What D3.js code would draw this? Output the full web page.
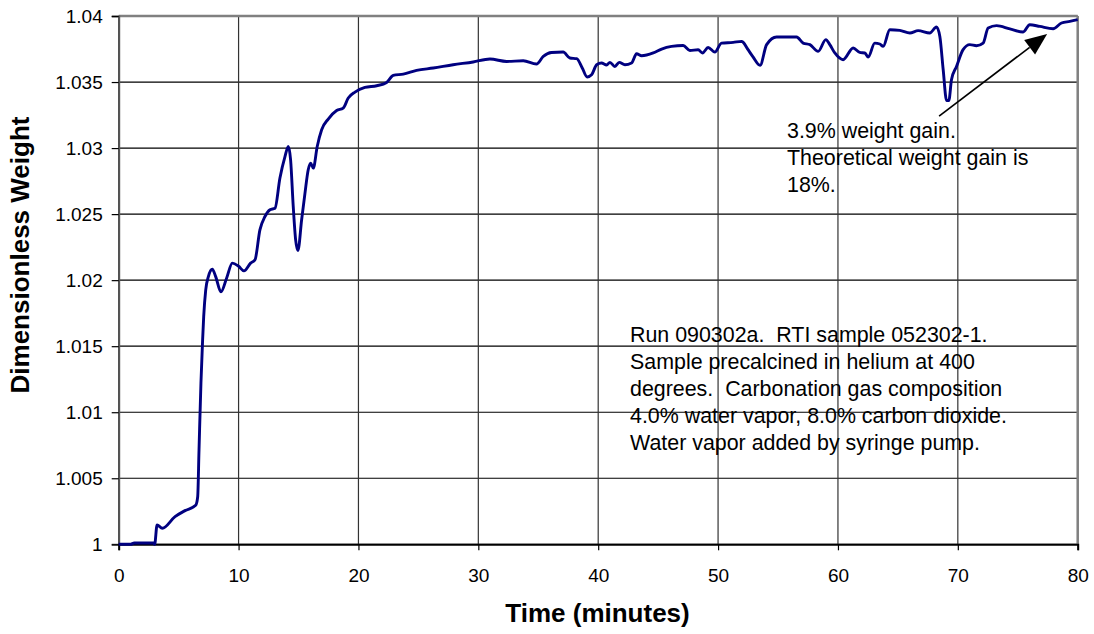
<!DOCTYPE html>
<html>
<head>
<meta charset="utf-8">
<script src="https://cdn.jsdelivr.net/npm/d3@7"></script>
<style>
  html, body { margin: 0; padding: 0; background: #fff; }
  svg { display: block; font-family: Arial, "Liberation Sans", sans-serif; }
  .note { white-space: pre; }
</style>
</head>
<body>
<svg id="chart" width="1094" height="634"></svg>
<script>
// Carbonation run 090302a: dimensionless sample weight vs time
const timeMin = [0, 1.0, 1.3, 2.9, 3.0, 3.2, 3.64, 4.7, 5.53, 6.42, 6.59, 6.7, 6.86, 7.0, 7.09, 7.26, 7.48, 7.81, 8.09, 8.53,
  9.0, 9.48, 10.0, 10.45, 11.0, 11.37, 11.78, 12.2, 12.62, 13.04, 13.45, 13.87, 14.15, 14.34, 14.56, 14.76, 14.95, 15.26, 15.54, 15.81,
  16.01, 16.23, 16.56, 16.93, 17.48, 18.18, 18.73, 19.15, 19.71, 20.54, 21.52, 22.35, 22.9, 23.74, 24.85, 26.24, 27.9, 29.57, 30.97, 32.36,
  33.75, 34.85, 35.42, 36.1, 37.08, 37.64, 38.2, 38.67, 39.08, 39.45, 39.87, 40.28, 40.7, 40.98, 41.39, 41.75, 42.23, 42.78, 43.2, 43.62,
  44.59, 45.29, 46.12, 47.09, 47.65, 48.34, 48.7, 49.17, 49.73, 50.29, 51.26, 51.96, 52.1, 52.5, 52.9, 53.5, 54.05, 54.88, 56.55, 57.1,
  57.66, 58.35, 58.99, 59.32, 59.74, 60.43, 61.27, 61.82, 62.24, 62.52, 63.07, 63.49, 63.77, 64.33, 65.16, 66.0, 66.69, 67.66, 68.22, 68.5,
  68.78, 69.06, 69.25, 69.47, 69.89, 70.44, 71.0, 71.56, 72.11, 72.53, 73.23, 74.34, 75.45, 76.0, 76.84, 77.95, 78.65, 79.34, 80.0];

const weight = [1.0000, 1.0000, 1.0001, 1.0001, 1.0000, 1.00146, 1.00121, 1.00209, 1.00255, 1.00295, 1.0036, 1.00714, 1.0122, 1.01548, 1.01724, 1.01927, 1.02027, 1.02083, 1.02027, 1.01911,
  1.02015, 1.02129, 1.02105, 1.0207, 1.02129, 1.02154, 1.02381, 1.02482, 1.02533, 1.02545, 1.02773, 1.02936, 1.03012, 1.02911, 1.02558, 1.02305, 1.02224, 1.02457, 1.02659, 1.02836,
  1.02886, 1.02848, 1.03012, 1.03139, 1.0322, 1.03285, 1.03303, 1.03379, 1.03424, 1.03459, 1.03472, 1.03497, 1.0355, 1.0356, 1.03588, 1.03606, 1.03631, 1.03652, 1.03674, 1.03656,
  1.03661, 1.03636, 1.03694, 1.03724, 1.03727, 1.03682, 1.03677, 1.03606, 1.03538, 1.03555, 1.03631, 1.03644, 1.03629, 1.03649, 1.03618, 1.03649, 1.03631, 1.03644, 1.03714, 1.03699,
  1.0372, 1.0375, 1.0377, 1.03777, 1.03739, 1.03745, 1.0372, 1.03762, 1.03727, 1.03795, 1.038, 1.03808, 1.038, 1.03745, 1.03692, 1.03626, 1.03783, 1.03841, 1.03841, 1.03795,
  1.03783, 1.03732, 1.03821, 1.03783, 1.0372, 1.03669, 1.03758, 1.03724, 1.0372, 1.03689, 1.03795, 1.03788, 1.0377, 1.03896, 1.03891, 1.03871, 1.03889, 1.03871, 1.03917, 1.03845,
  1.03593, 1.0336, 1.0336, 1.03517, 1.03618, 1.03745, 1.03783, 1.03775, 1.03795, 1.03909, 1.03927, 1.03902, 1.03879, 1.03934, 1.03921, 1.03904, 1.03947, 1.03959, 1.03972];

const xTicks = [0, 10, 20, 30, 40, 50, 60, 70, 80];
const yTicks = [1, 1.005, 1.01, 1.015, 1.02, 1.025, 1.03, 1.035, 1.04];

const xTitle = "Time (minutes)";
const yTitle = "Dimensionless Weight";

const gainNote = ["3.9% weight gain.", "Theoretical weight gain is", "18%."];
const runNote = [
  "Run 090302a.  RTI sample 052302-1.",
  "Sample precalcined in helium at 400",
  "degrees.  Carbonation gas composition",
  "4.0% water vapor, 8.0% carbon dioxide.",
  "Water vapor added by syringe pump."
];
// arrow from the gain note to the end of the curve: [time, weight]
const arrowFrom = [68.44, 1.03242];
const arrowTo = [77.45, 1.03864];

const svg = d3.select("#chart");
const plot = { left: 118.7, right: 1077.7, top: 16, bottom: 544.3 };

const x = d3.scaleLinear().domain([0, 80]).range([plot.left, plot.right]);
const y = d3.scaleLinear().domain([1, 1.04]).range([plot.bottom, plot.top]);

// grid
svg.append("g").selectAll("line").data(yTicks).join("line")
  .attr("x1", plot.left).attr("x2", plot.right)
  .attr("y1", d => y(d)).attr("y2", d => y(d))
  .attr("stroke", "#000").attr("stroke-width", 1.2);
svg.append("g").selectAll("line").data(xTicks).join("line")
  .attr("y1", plot.top).attr("y2", plot.bottom)
  .attr("x1", d => x(d)).attr("x2", d => x(d))
  .attr("stroke", "#333").attr("stroke-width", 1.2);

// plot frame
svg.append("line").attr("x1", plot.left).attr("x2", plot.right).attr("y1", plot.top).attr("y2", plot.top)
  .attr("stroke", "#808080").attr("stroke-width", 2.5);
svg.append("line").attr("x1", plot.right).attr("x2", plot.right).attr("y1", plot.top).attr("y2", plot.bottom)
  .attr("stroke", "#808080").attr("stroke-width", 2.5);

// axes
const fmtY = d => String(+d.toFixed(3));
const yAxis = svg.append("g").attr("transform", `translate(${plot.left},0)`)
  .call(d3.axisLeft(y).tickValues(yTicks).tickFormat(fmtY).tickSize(7).tickPadding(9));
const xAxis = svg.append("g").attr("transform", `translate(0,${plot.bottom})`)
  .call(d3.axisBottom(x).tickValues(xTicks).tickFormat(d3.format("d")).tickSize(6).tickPadding(18));

[yAxis, xAxis].forEach(g => {
  g.selectAll("text").attr("font-size", 19).attr("fill", "#000")
    .attr("font-family", 'Arial, "Liberation Sans", sans-serif');
  g.selectAll(".tick line").attr("stroke", "#000").attr("stroke-width", 1.2);
});
yAxis.select(".domain").attr("stroke", "#555").attr("stroke-width", 2);
xAxis.select(".domain").attr("stroke", "#000").attr("stroke-width", 2);

// series line
const line = d3.line()
  .x((d, i) => x(timeMin[i]))
  .y(d => y(d))
  .curve(d3.curveMonotoneX);
svg.append("path").datum(weight)
  .attr("d", line)
  .attr("fill", "none")
  .attr("stroke", "#000080")
  .attr("stroke-width", 2.9)
  .attr("stroke-linejoin", "round");

// axis titles
svg.append("text")
  .attr("x", 597.5).attr("y", 622)
  .attr("text-anchor", "middle")
  .attr("font-size", 26).attr("font-weight", "bold")
  .text(xTitle);
svg.append("text")
  .attr("transform", "translate(29,255) rotate(-90)")
  .attr("text-anchor", "middle")
  .attr("font-size", 26).attr("font-weight", "bold")
  .text(yTitle);

// annotations
svg.append("text").attr("class", "note").attr("font-size", 21.4)
  .selectAll("tspan").data(gainNote).join("tspan")
  .attr("x", 787).attr("y", (d, i) => 138 + i * 27.2)
  .text(d => d);
svg.append("text").attr("class", "note").attr("font-size", 21.4)
  .selectAll("tspan").data(runNote).join("tspan")
  .attr("x", 630).attr("y", (d, i) => 341.7 + i * 27.1)
  .text(d => d);

// arrow with a filled triangular head
const ax0 = x(arrowFrom[0]), ay0 = y(arrowFrom[1]);
const ax1 = x(arrowTo[0]), ay1 = y(arrowTo[1]);
const ang = Math.atan2(ay1 - ay0, ax1 - ax0);
const headLen = 22, headHalf = 9;
const bx = ax1 - headLen * Math.cos(ang), by = ay1 - headLen * Math.sin(ang);
svg.append("line")
  .attr("x1", ax0).attr("y1", ay0).attr("x2", bx).attr("y2", by)
  .attr("stroke", "#000").attr("stroke-width", 1.6);
svg.append("path")
  .attr("d", `M${ax1},${ay1}L${bx + headHalf * Math.sin(ang)},${by - headHalf * Math.cos(ang)}L${bx - headHalf * Math.sin(ang)},${by + headHalf * Math.cos(ang)}Z`)
  .attr("fill", "#000");
</script>
</body>
</html>
